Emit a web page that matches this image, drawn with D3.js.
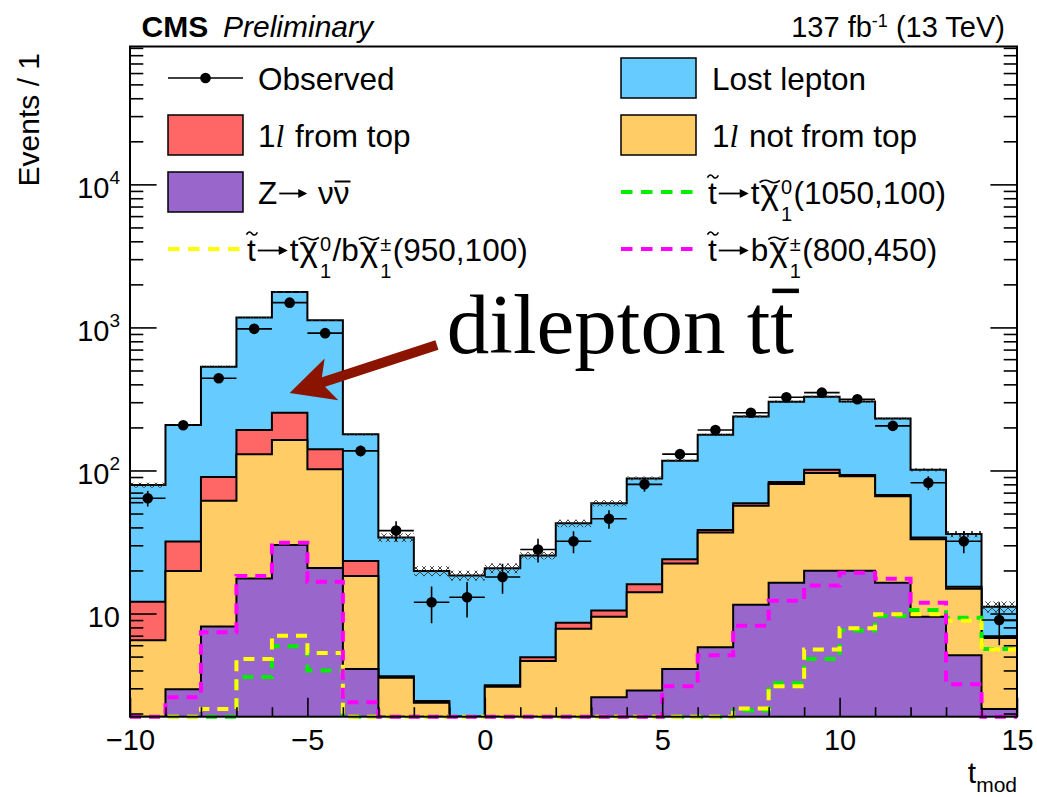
<!DOCTYPE html>
<html>
<head>
<meta charset="utf-8">
<script src="https://cdn.jsdelivr.net/npm/d3@7"></script>
<style>
  html, body { margin: 0; padding: 0; background: #fff; }
  svg text { font-family: "Liberation Sans", Arial, Helvetica, sans-serif; white-space: pre; fill: #000; }
</style>
</head>
<body>
<svg id="chart" width="1037" height="797"></svg>
<script>
// ---- t_mod bins (lower edges, width 1) ----
const binLow = [-10, -9, -8, -7, -6, -5, -4, -3, -2, -1, 0, 1, 2, 3, 4, 5, 6, 7, 8, 9, 10, 11, 12, 13, 14];
const binWidth = 1;

// ---- background yields per bin ----
const zNuNu      = [1.8, 2.95, 8.1, 17.6, 30.1, 20.8, 4.1, 1.2, 0.8, 0.5, 0.9, 1.3, 1.7, 2.6, 2.9, 4.1, 5.8, 11.5, 16.4, 19.9, 19.9, 16.4, 9.5, 5.1, 2.15];
const notFromTop = [4.7, 16.9, 53.4, 112, 133, 81, 14.2, 2.35, 1.58, 0.7, 2.18, 3.36, 6.13, 6.9, 11.2, 18.3, 31.1, 45.1, 64.1, 76.1, 71.1, 49.6, 23.6, 9.8, 4.6];
const fromTop    = [5.6, 12.0, 28.5, 62, 90, 39, 5.0, 0.1, 0.07, 0.05, 0.07, 0.28, 0.79, 1.0, 1.9, 1.6, 1.5, 2.4, 2.5, 5.0, 2.0, 1.4, 0.9, 0.5, 0.19];
const lostLepton = [66.9, 176, 442, 980, 1518, 981, 156, 30.3, 17.4, 17.2, 17.6, 20.5, 34.1, 48.5, 72, 93, 139, 179, 219, 226, 210, 163, 67, 20.5, 4.2];
// relative uncertainty on the total prediction
const totalUnc   = [0.04, 0.012, 0.015, 0.01, 0.01, 0.01, 0.02, 0.07, 0.08, 0.08, 0.08, 0.06, 0.06, 0.05, 0.03, 0.02, 0.02, 0.02, 0.02, 0.02, 0.02, 0.02, 0.025, 0.05, 0.09];

// ---- observed events ----
const observed = [64, 207, 441, 977, 1490, 912, 137, 38, 12, 13, 18, 28, 32, 46, 80, 130, 192, 253, 325, 350, 315, 205, 82, 32, 9];

// ---- signal benchmarks (not stacked) ----
const sigT1050 = [0, 0, 0, 3.6, 5.9, 4.0, 0, 0, 0, 0, 0, 0, 0, 0, 0, 0, 0, 2.1, 3.25, 4.8, 7.6, 9.6, 10.6, 9.35, 5.65];
const sigTB950 = [0, 0, 2.15, 4.8, 7.0, 5.3, 0, 0, 0, 0, 0, 0, 0, 0, 0, 0, 0, 2.17, 3.1, 5.6, 7.9, 9.9, 9.9, 8.9, 5.6];
const sigB800  = [0, 2.6, 7.4, 18.3, 31.3, 16.7, 2.4, 0, 0, 0, 0, 0, 0, 0, 0, 3.1, 5.1, 8.2, 12.3, 15.7, 19.3, 17.5, 11.9, 3.2, 0];

// ---- axes ----
const xDomain = [-10, 15];
const yDomain = [1.9, 9.2e4];
const xMajorTicks = [-10, -5, 0, 5, 10, 15];
const yMajorTicks = [10, 100, 1000, 10000];

const colors = {
  lost: "#66CCFF", fromTop: "#FF6666", notTop: "#FFCC66", znn: "#9966CC",
  t1050: "#00EE00", tb950: "#FFFF00", b800: "#FF00FF", arrow: "#8B1400"
};

const svg = d3.select("#chart");
const M = { left: 130, right: 1017, top: 46.5, bottom: 716.7 };

const x = d3.scaleLinear().domain(xDomain).range([M.left, M.right]);
const y = d3.scaleLog().domain(yDomain).range([M.bottom, M.top]).clamp(true);

const defs = svg.append("defs");
defs.append("clipPath").attr("id", "plotClip")
  .append("rect").attr("x", M.left).attr("y", M.top)
  .attr("width", M.right - M.left).attr("height", M.bottom - M.top);
defs.append("clipPath").attr("id", "sigClip")
  .append("rect").attr("x", M.left).attr("y", M.top)
  .attr("width", M.right - M.left).attr("height", M.bottom - M.top + 4);
const hatch = defs.append("pattern").attr("id", "hatch")
  .attr("patternUnits", "userSpaceOnUse").attr("width", 8).attr("height", 8);
hatch.append("path").attr("d", "M0,0 L8,8 M8,0 L0,8 M-1,7 L1,9 M7,-1 L9,1")
  .attr("stroke", "#333").attr("stroke-width", 0.9).attr("fill", "none");

// ---- stacked backgrounds ----
const rows = binLow.map((b, i) => ({
  lo: b, znn: zNuNu[i], notTop: notFromTop[i], fromTop: fromTop[i], lost: lostLepton[i]
}));
const keys = ["znn", "notTop", "fromTop", "lost"];
const series = d3.stack().keys(keys)(rows);

// step points: each bin contributes its two edges
const stepPts = (vals) => binLow.flatMap((b, i) => [[b, vals[i]], [b + binWidth, vals[i]]]);

const plot = svg.append("g").attr("clip-path", "url(#plotClip)");
const area = d3.area().x(d => x(d[0])).y0(M.bottom).y1(d => y(d[1]));
const line = d3.line().x(d => x(d[0])).y(d => y(d[1]));

// draw cumulative layers from the top one down so each lower layer sits on top
series.slice().reverse().forEach(s => {
  const tops = s.map(d => d[1]);
  const pts = stepPts(tops);
  plot.append("path").attr("d", area(pts)).attr("fill", colors[s.key]).attr("stroke", "none");
  plot.append("path").attr("d", line(pts)).attr("fill", "none")
    .attr("stroke", "#000").attr("stroke-width", 2);
});

// ---- uncertainty band on the total ----
const totals = series[series.length - 1].map(d => d[1]);
plot.append("g").selectAll("rect").data(binLow).join("rect")
  .attr("x", d => x(d))
  .attr("width", d => x(d + binWidth) - x(d))
  .attr("y", (d, i) => y(totals[i] * (1 + totalUnc[i])))
  .attr("height", (d, i) => y(totals[i] * (1 - totalUnc[i])) - y(totals[i] * (1 + totalUnc[i])))
  .attr("fill", "url(#hatch)");

// ---- signals ----
const sigG = svg.append("g").attr("clip-path", "url(#sigClip)");
[[sigT1050, colors.t1050], [sigTB950, colors.tb950], [sigB800, colors.b800]].forEach(([vals, c]) => {
  sigG.append("path").attr("d", line(stepPts(vals)))
    .attr("fill", "none").attr("stroke", c).attr("stroke-width", 4)
    .attr("stroke-dasharray", "11,8");
});

// ---- observed data ----
const dataG = svg.append("g").attr("clip-path", "url(#plotClip)");
observed.forEach((n, i) => {
  const cx = x(binLow[i] + binWidth / 2);
  const err = Math.sqrt(n);
  dataG.append("line").attr("x1", x(binLow[i])).attr("x2", x(binLow[i] + binWidth))
    .attr("y1", y(n)).attr("y2", y(n)).attr("stroke", "#000").attr("stroke-width", 1.6);
  dataG.append("line").attr("x1", cx).attr("x2", cx)
    .attr("y1", y(n + err)).attr("y2", y(Math.max(n - err, 1e-3))).attr("stroke", "#000").attr("stroke-width", 1.6);
  dataG.append("circle").attr("cx", cx).attr("cy", y(n)).attr("r", 5.3).attr("fill", "#000");
});

// ---- axes (ticks point inward) ----
const styleAxis = g => {
  g.select(".domain").remove();
  g.selectAll(".tick line").attr("stroke", "#000").attr("stroke-width", 1.6);
  g.attr("font-family", null).attr("font-size", null);
};
const xMinor = d3.range(xDomain[0], xDomain[1] + 1).filter(v => !xMajorTicks.includes(v));
svg.append("g").attr("transform", `translate(0,${M.bottom})`)
  .call(d3.axisBottom(x).tickValues(xMinor).tickSize(-9.5).tickFormat(""))
  .call(styleAxis);
const gx = svg.append("g").attr("transform", `translate(0,${M.bottom})`)
  .call(d3.axisBottom(x).tickValues(xMajorTicks).tickSize(-19)
    .tickFormat(d => d < 0 ? "\u2212" + Math.abs(d) : String(d)))
  .call(styleAxis);
gx.selectAll(".tick text").attr("y", 33.5).attr("dy", null).attr("font-size", 29).attr("fill", "#000");

const yMinor = [];
[1, 10, 100, 1000, 10000].forEach(dec => {
  for (let k = 2; k <= 9; k++) {
    const v = dec * k;
    if (v >= yDomain[0] && v <= yDomain[1]) yMinor.push(v);
  }
});
[[d3.axisLeft, M.left], [d3.axisRight, M.right]].forEach(([ax, pos]) => {
  svg.append("g").attr("transform", `translate(${pos},0)`)
    .call(ax(y).tickValues(yMinor).tickSize(-13.3).tickFormat("")).call(styleAxis);
  svg.append("g").attr("transform", `translate(${pos},0)`)
    .call(ax(y).tickValues(yMajorTicks).tickSize(-26.6).tickFormat("")).call(styleAxis);
});

// y labels in power-of-ten form
yMajorTicks.forEach(v => {
  const e = Math.round(Math.log10(v));
  const t = svg.append("text").attr("x", 120).attr("y", y(v) + 13.5)
    .attr("text-anchor", "end").attr("font-size", 29);
  t.append("tspan").text("10");
  if (e !== 1) t.append("tspan").attr("font-size", 19).attr("dy", -13.5).text(String(e));
});

// frame
svg.append("rect").attr("x", M.left).attr("y", M.top)
  .attr("width", M.right - M.left).attr("height", M.bottom - M.top)
  .attr("fill", "none").attr("stroke", "#000").attr("stroke-width", 2);

// axis titles
svg.append("text").attr("transform", "translate(38.5,53) rotate(-90)")
  .attr("text-anchor", "end").attr("font-size", 30).text("Events / 1");
const xt = svg.append("text").attr("x", M.right).attr("y", 783)
  .attr("text-anchor", "end").attr("font-size", 30);
xt.append("tspan").text("t");
xt.append("tspan").attr("font-size", 21).attr("dy", 9).text("mod");

// header
svg.append("text").attr("x", 141.5).attr("y", 37).attr("font-size", 30)
  .attr("font-weight", "bold").text("CMS");
svg.append("text").attr("x", 223).attr("y", 37).attr("font-size", 30)
  .attr("font-style", "italic").text("Preliminary");
const lumi = svg.append("text").attr("x", 1005).attr("y", 37)
  .attr("text-anchor", "end").attr("font-size", 29);
lumi.append("tspan").text("137 fb");
lumi.append("tspan").attr("font-size", 18).attr("dy", -10).text("-1");
lumi.append("tspan").attr("dy", 10).text(" (13 TeV)");

// ---- legend ----
const LS = 31.5;   // legend text size
const SS = 20;     // sub/superscript size

function tildePath(g, cx, cy, w, amp) {
  const x0 = cx - w / 2, a = amp;
  g.append("path")
    .attr("d", `M${x0},${cy + a * 0.5} Q${x0 + w / 4},${cy - a * 1.5} ${x0 + w / 2},${cy} T${x0 + w},${cy - a * 0.5}`)
    .attr("fill", "none").attr("stroke", "#000").attr("stroke-width", 1.6);
}

// text built from pieces: plain runs, italics, tildes, bars, arrows and stacked sub/superscripts
function richText(g, x0, base, parts) {
  let cx = x0;
  parts.forEach(p => {
    if (p.arrow) {
      const len = p.arrow, ay = base - 10;
      g.append("line").attr("x1", cx + 2).attr("x2", cx + len - 4).attr("y1", ay).attr("y2", ay)
        .attr("stroke", "#000").attr("stroke-width", 1.8);
      g.append("path").attr("d", `M${cx + len},${ay} L${cx + len - 9},${ay - 4.5} L${cx + len - 9},${ay + 4.5}Z`)
        .attr("fill", "#000");
      cx += len + 2;
    } else if (p.t !== undefined) {
      const el = g.append("text").attr("x", cx + (p.pre || 0)).attr("y", base)
        .attr("font-size", p.size || LS).text(p.t);
      if (p.italic) el.style("font-style", "italic").style("font-family", "'Liberation Serif', serif");
      const w = el.node().getComputedTextLength();
      const mid = cx + (p.pre || 0) + w / 2;
      if (p.tilde === "tall") tildePath(g, mid + 0.5, base - 27, Math.max(w, 11), 2.4);
      if (p.tilde === "low") tildePath(g, mid, base - 22, w + 2, 2.0);
      if (p.bar) g.append("line").attr("x1", cx + 1).attr("x2", cx + w + 1)
        .attr("y1", base - 22).attr("y2", base - 22).attr("stroke", "#000").attr("stroke-width", 2);
      cx += (p.pre || 0) + w + (p.gap || 0);
    } else {
      let w = 0;
      if (p.sup) {
        const e = g.append("text").attr("x", cx + 1).attr("y", base - 10).attr("font-size", SS).text(p.sup);
        w = Math.max(w, e.node().getComputedTextLength());
      }
      if (p.sub) {
        const e = g.append("text").attr("x", cx + 1).attr("y", base + 17).attr("font-size", SS).text(p.sub);
        w = Math.max(w, e.node().getComputedTextLength());
      }
      cx += w + 2.5;
    }
  });
}

const legend = svg.append("g");
const colL = { sx0: 168, sx1: 243, tx: 258, stx: 247 };
const colR = { sx0: 621, sx1: 696, tx: 712, stx: 708 };
const rowY = [78, 135, 192, 249];

function boxSym(col, cy, fill) {
  legend.append("rect").attr("x", col.sx0).attr("y", cy - 20)
    .attr("width", col.sx1 - col.sx0).attr("height", 40)
    .attr("fill", fill).attr("stroke", "#000").attr("stroke-width", 1.5);
}
function dashSym(col, cy, color) {
  legend.append("line").attr("x1", col.sx0).attr("x2", col.sx1 - 2).attr("y1", cy).attr("y2", cy)
    .attr("stroke", color).attr("stroke-width", 4).attr("stroke-dasharray", "11.5,8.5");
}

// Observed
legend.append("line").attr("x1", colL.sx0).attr("x2", colL.sx1).attr("y1", rowY[0]).attr("y2", rowY[0])
  .attr("stroke", "#000").attr("stroke-width", 1.6);
legend.append("circle").attr("cx", (colL.sx0 + colL.sx1) / 2).attr("cy", rowY[0]).attr("r", 5.3).attr("fill", "#000");
richText(legend, colL.tx, rowY[0] + 11.5, [{ t: "Observed" }]);

// Lost lepton
boxSym(colR, rowY[0], colors.lost);
richText(legend, colR.tx, rowY[0] + 11.5, [{ t: "Lost lepton" }]);

// 1l from top
boxSym(colL, rowY[1], colors.fromTop);
richText(legend, colL.tx, rowY[1] + 11.5, [{ t: "1" }, { t: "l", italic: true, gap: 2 }, { t: " from top" }]);

// 1l not from top
boxSym(colR, rowY[1], colors.notTop);
richText(legend, colR.tx, rowY[1] + 11.5, [{ t: "1" }, { t: "l", italic: true, gap: 2 }, { t: " not from top" }]);

// Z -> nu nubar
boxSym(colL, rowY[2], colors.znn);
richText(legend, colL.tx, rowY[2] + 11.5, [{ t: "Z" }, { arrow: 30 }, { t: " \u03BD" }, { t: "\u03BD", bar: true }]);

// signals (chi drawn a little larger, as in the symbol font)
const chi = { t: "\u03C7", tilde: "low", size: 35, pre: 1, gap: 1 };
dashSym(colR, rowY[2], colors.t1050);
richText(legend, colR.stx, rowY[2] + 11.5, [
  { t: "t", tilde: "tall" }, { arrow: 32 }, { t: "t" }, chi,
  { sup: "0", sub: "1" }, { t: "(1050,100)" }
]);
dashSym(colL, rowY[3], colors.tb950);
richText(legend, colL.stx, rowY[3] + 11.5, [
  { t: "t", tilde: "tall" }, { arrow: 32 }, { t: "t" }, chi,
  { sup: "0", sub: "1" }, { t: "/b" }, chi, { sup: "\u00B1", sub: "1" },
  { t: "(950,100)" }
]);
dashSym(colR, rowY[3], colors.b800);
richText(legend, colR.stx, rowY[3] + 11.5, [
  { t: "t", tilde: "tall" }, { arrow: 32 }, { t: "b" }, chi,
  { sup: "\u00B1", sub: "1" }, { t: "(800,450)" }
]);

// ---- annotation: dilepton ttbar with arrow ----
const note = { x: -1.07, y: 664, tailX: -1.35, tailY: 755, tipX: -5.5, tipY: 348 };
const ann = svg.append("g");
const nx = x(note.x), ny = y(note.y);
const serif = "'Liberation Serif', 'Times New Roman', serif";
const t1 = ann.append("text").attr("x", nx).attr("y", ny).attr("font-size", 85)
  .style("font-family", serif).text("dilepton t");
const w1 = t1.node().getComputedTextLength();
const t2 = ann.append("text").attr("x", nx + w1).attr("y", ny).attr("font-size", 85)
  .style("font-family", serif).text("t");
const w2 = t2.node().getComputedTextLength();
ann.append("line").attr("x1", nx + w1 + 2).attr("x2", nx + w1 + w2 + 5)
  .attr("y1", ny - 62).attr("y2", ny - 62).attr("stroke", "#000").attr("stroke-width", 4.5);

const S = [x(note.tailX), y(note.tailY)], T = [x(note.tipX), y(note.tipY)];
const len = Math.hypot(T[0] - S[0], T[1] - S[1]);
const u = [(T[0] - S[0]) / len, (T[1] - S[1]) / len];
const nrm = [-u[1], u[0]];
const at = (along, side) => [T[0] - u[0] * along + nrm[0] * side, T[1] - u[1] * along + nrm[1] * side];
const shaftEnd = at(30, 0);
ann.append("line").attr("x1", S[0]).attr("y1", S[1]).attr("x2", shaftEnd[0]).attr("y2", shaftEnd[1])
  .attr("stroke", colors.arrow).attr("stroke-width", 10);
ann.append("path")
  .attr("d", "M" + [T, at(44, 22), at(33, 0), at(44, -22)].map(p => p.join(",")).join("L") + "Z")
  .attr("fill", colors.arrow);
</script>
</body>
</html>
